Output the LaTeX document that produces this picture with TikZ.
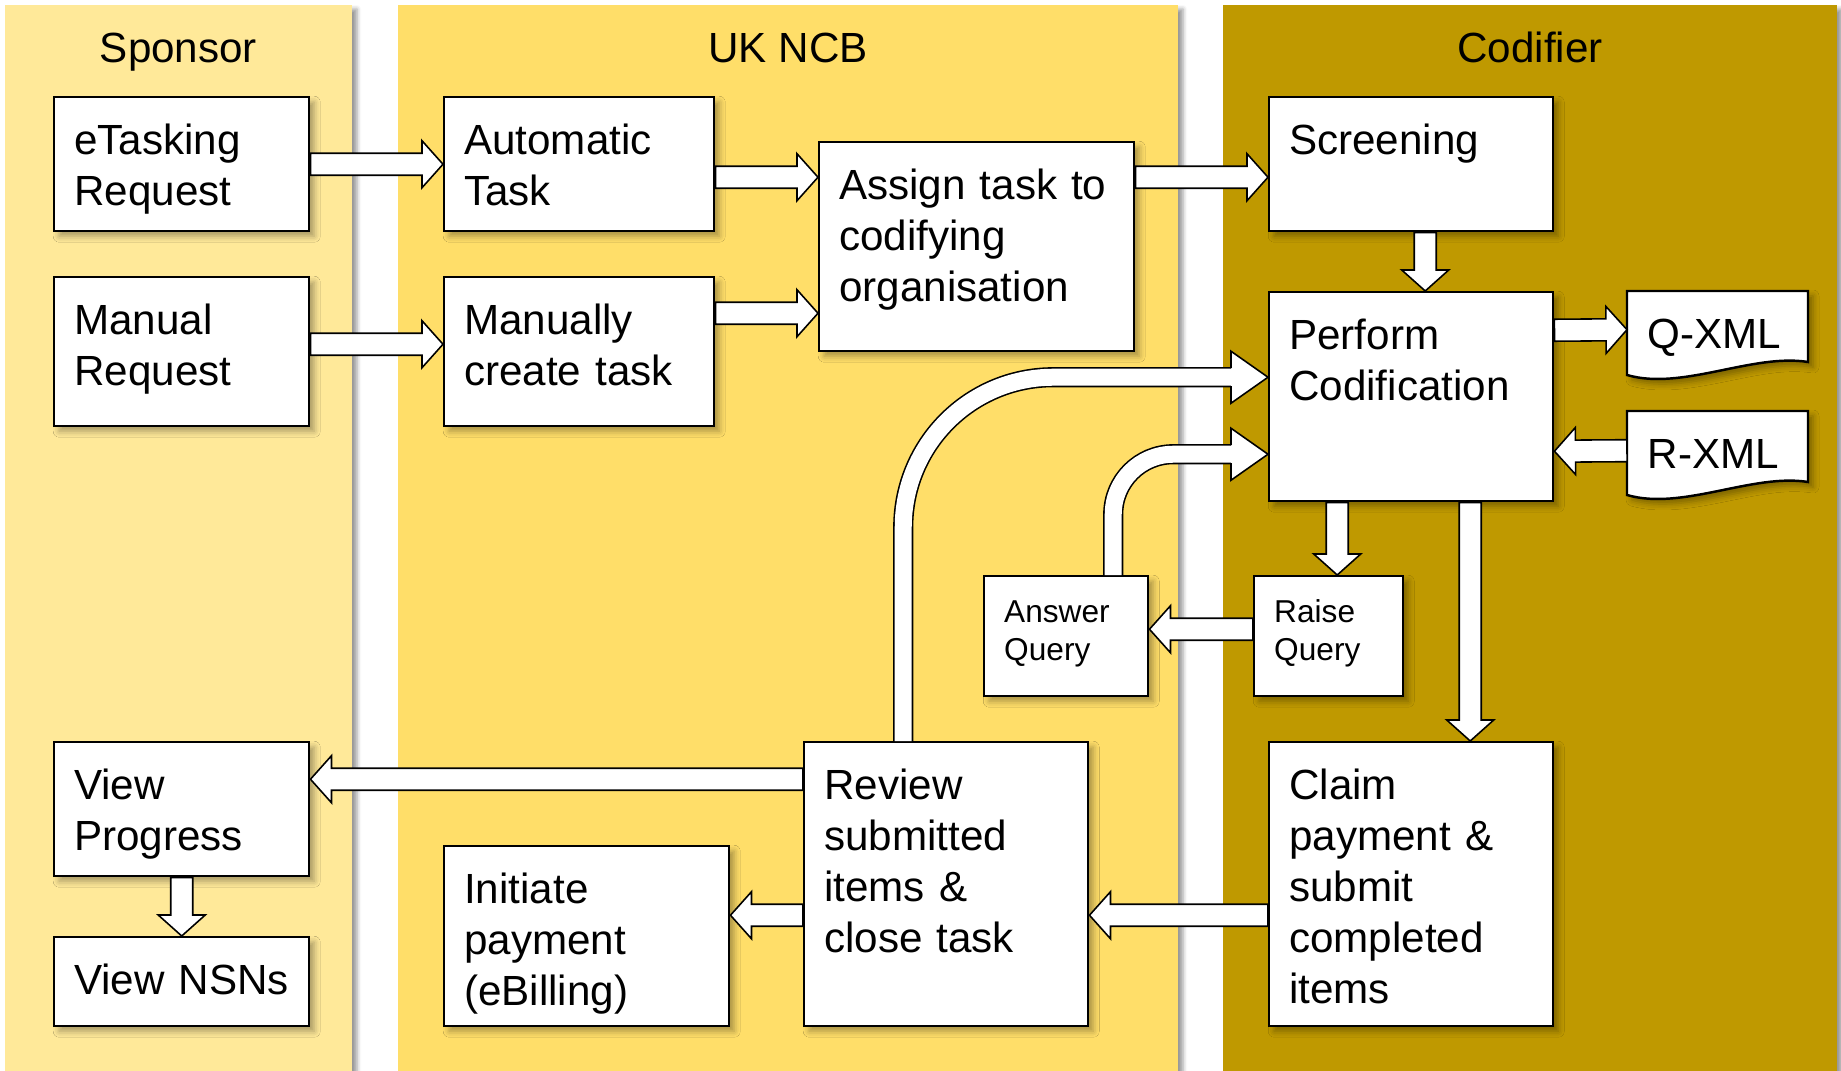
\documentclass[tikz,border=0pt]{standalone}
\usepackage{fontspec}
\setmainfont{Liberation Sans}
\usetikzlibrary{calc,shadows.blur}

\definecolor{sponsorc}{RGB}{255,233,153}
\definecolor{ncbc}{RGB}{255,222,105}
\definecolor{codic}{RGB}{191,153,0}

% hollow block arrow from #1 to #2 (straight)
\newcommand{\blockarrow}[2]{%
  \coordinate (ba) at #1;
  \coordinate (bb) at #2;
  \coordinate (bc) at ($(bb)!0.21cm!(ba)$);
  \draw[barrow] ($(ba)!0.11cm!90:(bb)$) -- ($(bc)!0.11cm!90:(bb)$)
    -- ($(bc)!0.235cm!90:(bb)$) -- (bb) -- ($(bc)!0.235cm!-90:(bb)$)
    -- ($(bc)!0.11cm!-90:(bb)$) -- ($(ba)!0.11cm!-90:(bb)$) -- cycle;}
% hollow block arrow that goes up from #2, bends (radius #1) and ends pointing right at #3
\newcommand{\bendarrow}[3]{%
  \coordinate (ba) at #2;
  \coordinate (bb) at #3;
  \coordinate (bc) at ([xshift=-0.37cm]bb);
  \draw[dblshaft, rounded corners=#1] (ba) |- (bc);
  \draw[barrow] ([yshift=0.09cm]bc) -- ([yshift=0.26cm]bc) -- (bb)
    -- ([yshift=-0.26cm]bc) -- ([yshift=-0.09cm]bc);}

\begin{document}
\begin{tikzpicture}[%
    font=\fontsize{12}{14.5}\selectfont, % body text of all boxes
    ]
% -------------------------------------------------
% Box and connector styles
\tikzset{
  shade/.style={blur shadow={shadow xshift=0.05cm, shadow yshift=-0.05cm,
      shadow blur radius=0.06cm, shadow opacity=35}},
  base/.style={draw, fill=white, line width=0.7pt, shade, anchor=north west,
      align=left, inner xsep=0.2cm, inner ysep=0pt, text height=0.57cm},
  proc/.style={base, text width=#1},
  small/.style={font=\fontsize{9}{10.9}\selectfont, text height=0.46cm},
  doc/.style={anchor=north west, align=left, inner xsep=0.2cm, inner ysep=0pt,
      text height=0.57cm, text depth=0.14cm, text width=1.41cm},
  docline/.style={draw, fill=white, line width=0.7pt, shade},
  lane/.style={blur shadow={shadow xshift=0.05cm, shadow yshift=-0.04cm,
      shadow blur radius=0.04cm, shadow opacity=40}},
  lanehead/.style={anchor=base},
  barrow/.style={draw, fill=white, line width=0.45pt},
  dblshaft/.style={draw, double=white, double distance=0.17cm, line width=0.45pt}
}
\useasboundingbox (0,0) rectangle (18.41,-10.71);
% -------------------------------------------------
% Swim lanes
\fill[sponsorc, lane] (0.05,-0.05) rectangle (3.52,-10.71);
\fill[ncbc, lane] (3.98,-0.05) rectangle (11.78,-10.71);
\fill[codic, lane] (12.23,-0.05) rectangle (18.37,-10.71);
\node[lanehead] (hsponsor) at (1.785,-0.63) {Sponsor};
\node[lanehead] (hncb) at (7.88,-0.63) {UK NCB};
\node[lanehead] (hcodifier) at (15.30,-0.63) {Codifier};
% -------------------------------------------------
% Sponsor
\node[proc=2.15cm, text depth=0.77cm] (etask) at (0.53,-0.96) {eTasking\\Request};
\node[proc=2.15cm, text depth=0.92cm] (manreq) at (0.53,-2.76) {Manual\\Request};
\node[proc=2.15cm, text depth=0.77cm] (viewprog) at (0.53,-7.41) {View\\Progress};
\node[proc=2.15cm, text depth=0.32cm] (viewnsn) at (0.53,-9.36) {View NSNs};
% UK NCB
\node[proc=2.30cm, text depth=0.77cm] (autotask) at (4.43,-0.96) {Automatic\\Task};
\node[proc=2.30cm, text depth=0.92cm] (mantask) at (4.43,-2.76) {Manually\\create task};
\node[proc=2.75cm, text depth=1.52cm] (assign) at (8.18,-1.41) {Assign task to\\codifying\\organisation};
\node[proc=1.24cm, small, text depth=0.74cm] (answer) at (9.83,-5.75) {Answer\\Query};
\node[proc=2.45cm, text depth=1.23cm] (initiate) at (4.43,-8.45) {Initiate\\payment\\(eBilling)};
\node[proc=2.44cm, text depth=2.27cm] (review) at (8.03,-7.41) {Review\\submitted\\items \&\\close task};
% Codifier
\node[proc=2.44cm, text depth=0.77cm] (screen) at (12.68,-0.96) {Screening};
\node[proc=2.44cm, text depth=1.52cm] (perform) at (12.68,-2.91) {Perform\\Codification};
\node[proc=1.09cm, small, text depth=0.74cm] (raise) at (12.53,-5.75) {Raise\\Query};
\node[proc=2.44cm, text depth=2.27cm] (claim) at (12.68,-7.41) {Claim\\payment \&\\submit\\completed\\items};
% XML documents
\coordinate (qtop) at (16.27,-2.91);
\coordinate (rtop) at (16.27,-4.11);
\foreach \d in {qtop,rtop}
  \draw[docline] (\d) -- ++(1.81,0) -- ++(0,-0.71)
    .. controls +(-0.55,0.09) and +(0.55,-0.16) .. ++(-1.81,-0.13) -- cycle;
\node[doc] (qxml) at (qtop) {Q-XML};
\node[doc] (rxml) at (rtop) {R-XML};
% -------------------------------------------------
% Connectors
\blockarrow{(etask.east)}{(autotask.west)}
\blockarrow{([yshift=0.075cm]manreq.east)}{([yshift=0.075cm]mantask.west)}
\blockarrow{([yshift=-0.13cm]autotask.east)}{([yshift=0.695cm]assign.west)}
\blockarrow{([yshift=0.385cm]mantask.east)}{([yshift=-0.665cm]assign.west)}
\blockarrow{([yshift=0.695cm]assign.east)}{([yshift=-0.13cm]screen.west)}
\blockarrow{([xshift=0.14cm]screen.south)}{([xshift=0.14cm]perform.north)}
\blockarrow{([yshift=0.665cm]perform.east)}{([yshift=-0.025cm]qxml.west)}
\blockarrow{([yshift=-0.035cm]rxml.west)}{([yshift=-0.545cm]perform.east)}
\blockarrow{([xshift=-0.74cm]perform.south)}{([xshift=0.085cm]raise.north)}
\blockarrow{([yshift=0.07cm]raise.west)}{([yshift=0.07cm]answer.east)}
\blockarrow{([xshift=0.59cm]perform.south)}{([xshift=0.59cm]claim.north)}
\blockarrow{([yshift=-0.31cm]claim.west)}{([yshift=-0.31cm]review.east)}
\blockarrow{([yshift=-0.31cm]review.west)}{([yshift=0.21cm]initiate.east)}
\blockarrow{([yshift=1.05cm]review.west)}{([yshift=0.30cm]viewprog.east)}
\blockarrow{(viewprog.south)}{(viewnsn.north)}
\bendarrow{1.5cm}{([xshift=-0.43cm]review.north)}{([yshift=0.195cm]perform.west)}
\bendarrow{0.6cm}{([xshift=0.47cm]answer.north)}{([yshift=-0.575cm]perform.west)}
% -------------------------------------------------
\end{tikzpicture}
\end{document}
